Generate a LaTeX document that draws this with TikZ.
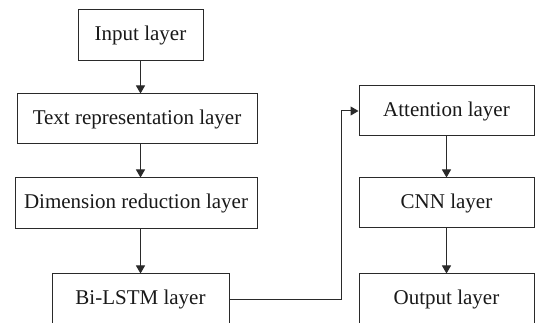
\documentclass[tikz,border=0pt]{standalone}
\usepackage{fontspec}
\setmainfont{Liberation Serif}
\usetikzlibrary{arrows.meta}
\definecolor{edge}{HTML}{2A2A2A}
\begin{document}
\begin{tikzpicture}[x=1pt,y=1pt,
  layerbox/.style={draw=edge, line width=1pt, rectangle, inner sep=0pt,
    font=\fontsize{21}{25}\selectfont, text=black!90},
  flow/.style={draw=edge, line width=1pt, -{Triangle[length=8pt,width=9pt]}}]
\useasboundingbox (0,0) rectangle (535,323);
\clip (0,0) rectangle (535,323);
\fill[white] (0,0) rectangle (535,323);
\node[layerbox, minimum width=125, minimum height=51] (in) at (140.5,287.5) {Input layer};
\node[layerbox, minimum width=240, minimum height=50] (tr) at (137,204) {Text representation layer};
\node[layerbox, minimum width=242, minimum height=51] (dr) at (136,119.5) {Dimension reduction layer};
\node[layerbox, minimum width=177, minimum height=51] (bl) at (140.5,23.5) {Bi-LSTM layer};
\node[layerbox, minimum width=175, minimum height=50] (at) at (446.5,212) {Attention layer};
\node[layerbox, minimum width=175, minimum height=50] (cn) at (446.5,120) {CNN layer};
\node[layerbox, minimum width=175, minimum height=51] (ou) at (446.5,23.5) {Output layer};
\coordinate (bend) at (341,0);
\draw[flow] (in.south) -- (in.south |- tr.north);
\draw[flow] (in.south |- tr.south) -- (in.south |- dr.north);
\draw[flow] (in.south |- dr.south) -- (bl.north);
\draw[flow] (bl.east) -- (bl.east -| bend) |- (at.west);
\draw[flow] (at.south) -- (cn.north);
\draw[flow] (cn.south) -- (ou.north);
\end{tikzpicture}
\end{document}
